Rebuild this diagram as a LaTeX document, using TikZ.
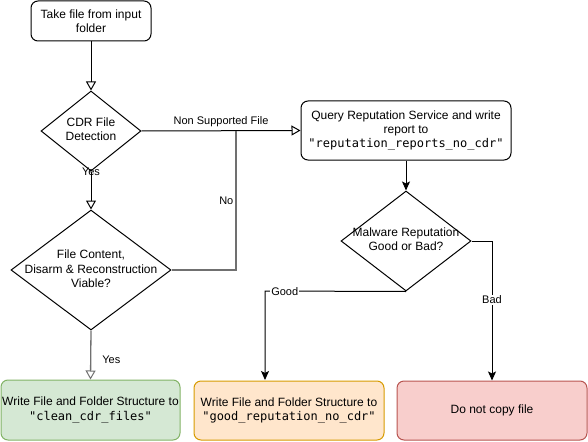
\documentclass[tikz,border=0pt]{standalone}
\usepackage{fontspec}
\setmainfont{Liberation Sans}
\setmonofont{DejaVu Sans Mono}
\usetikzlibrary{arrows.meta,shapes.geometric}
\definecolor{gfill}{HTML}{D5E8D4}\definecolor{gdraw}{HTML}{82B366}
\definecolor{ofill}{HTML}{FFE6CC}\definecolor{odraw}{HTML}{D79B00}
\definecolor{rfill}{HTML}{F8CECC}\definecolor{rdraw}{HTML}{B85450}
\definecolor{lgrey}{HTML}{707070}
\tikzset{
  box/.style={draw, rounded corners=7pt, line width=1pt, align=center,
    font=\fontsize{12}{14.4}\selectfont, inner sep=0pt},
  dia/.style={draw, diamond, line width=1pt, align=center, inner sep=0pt,
    font=\fontsize{12}{14.4}\selectfont},
  dtext/.style={align=center, font=\fontsize{12}{14.4}\selectfont},
  conn/.style={line width=1pt},
  gconn/.style={line width=1.3pt, draw=lgrey},
  openarr/.style={-{Triangle[open,length=9pt,width=10pt,line width=1pt]}},
  fillarr/.style={-{Stealth[length=9pt,width=8pt,inset=2pt]}},
  lbl/.style={font=\fontsize{11}{13}\selectfont, inner sep=1pt}
}
\begin{document}
\begin{tikzpicture}[x=1pt,y=-1pt]
\useasboundingbox (0,0) rectangle (588,441);
% nodes
\node[box, minimum width=120pt, minimum height=40pt] (start) at (91,21) {Take file from input\\folder};
\node[dia, minimum width=100pt, minimum height=80pt] (d1) at (91,131) {};
\node[dtext] (d1t) at (91,129.5) {CDR File\\Detection};
\node[dia, minimum width=160pt, minimum height=120pt] (d2) at (91,270) {};
\node[dtext] (d2t) at (91,269) {File Content,\\Disarm \& Reconstruction\\Viable?};
\node[box, fill=gfill, draw=gdraw, minimum width=179pt, minimum height=60pt] (green) at (90.5,410) {Write File and Folder Structure to\\{\ttfamily"clean\_cdr\_files"}};
\node[box, minimum width=210pt, minimum height=59pt] (query) at (406,130.5) {Query Reputation Service and write\\report to\\{\ttfamily"reputation\_reports\_no\_cdr"}};
\node[dia, minimum width=130pt, minimum height=100pt] (d3) at (406,241) {};
\node[dtext] (d3t) at (406,239.5) {Malware Reputation\\Good or Bad?};
\node[box, fill=ofill, draw=odraw, minimum width=190pt, minimum height=59pt] (orange) at (289,410.5) {Write File and Folder Structure to\\{\ttfamily"good\_reputation\_no\_cdr"}};
\node[box, fill=rfill, draw=rdraw, minimum width=190pt, minimum height=59pt] (red) at (492,410.5) {Do not copy file};
% coordinates
\coordinate (j1) at (236,131);
\coordinate (j2) at (236,270);
\coordinate (g1) at (265,291);
\coordinate (g2) at (265,380);
\coordinate (b1) at (492,241);
% connectors
\draw[conn, openarr] (start.south) -- (d1.north);
\draw[conn, openarr] (d1.south) -- node[lbl, pos=0, anchor=center] {Yes} (d2.north);
\draw[conn, openarr] (d1.east) -- node[lbl, above, pos=0.5, yshift=2pt] {Non Supported File} (query.west);
\draw[gconn] (d2.east) -- (j2) -- node[lbl, pos=0.5, left, xshift=-1pt] {No} (j1);
\draw[gconn, openarr] (d2.south) -- node[lbl, right, pos=0.6, xshift=10pt] {Yes} (green.north);
\draw[conn, fillarr] (query.south) -- (d3.north);
\draw[conn, fillarr] (d3.south) -- node[lbl, fill=white, pos=0.86, inner sep=1pt] {Good} (g1) -- (g2);
\draw[conn, fillarr] (d3.east) -- (b1) -- node[lbl, fill=white, pos=0.42] {Bad} (red.north);
\end{tikzpicture}
\end{document}
